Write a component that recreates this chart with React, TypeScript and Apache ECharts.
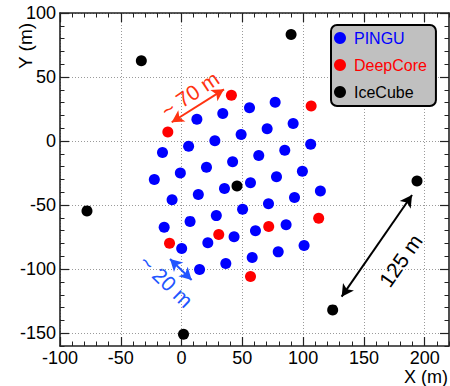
import React, { useEffect, useRef } from 'react';
import * as echarts from 'echarts';

const FONT = "'Liberation Sans', Arial, Helvetica, sans-serif";

// Detector string positions (m)
const pinguPoints: [number, number][] = [
  [12.6, 17], [33.9, 21.6], [55.9, 26], [77, 30.4],
  [-15.7, -9], [5.8, -4], [27.4, 0.3], [49, 5.2], [70.4, 9.6], [91.8, 13.8],
  [-22.4, -30], [-1, -25], [20.5, -20.5], [42, -16.2], [63.5, -11.2], [84.9, -7.1], [106.2, -2.4],
  [-7.8, -45.8], [13.8, -41.7], [35.3, -37], [56.7, -32.6], [78.1, -27.9], [99.4, -23.5],
  [-14.3, -67.3], [7, -62.7], [28.6, -58.2], [50.2, -53.3], [71.5, -49], [92.9, -44], [114.2, -39],
  [0.1, -83.9], [21.6, -79.3], [43.2, -74.7], [60.8, -70.1], [86, -65.4],
  [14.8, -100.3], [36.4, -95.5], [58.1, -90.9], [79.5, -86.5], [100.8, -81.5],
];
const deepCorePoints: [number, number][] = [
  [-11.3, 7.1], [41, 35.8], [106.6, 27.3], [112.8, -60.2],
  [71.7, -66.7], [30.6, -72.9], [-9.9, -79.8], [56.7, -105.8],
];
const iceCubePoints: [number, number][] = [
  [-33.1, 62.7], [90.1, 83.3], [-77.8, -54.5], [45.6, -35.1],
  [193.7, -31.1], [124.3, -131.8], [1.6, -150.8],
];

const xMajorTicks = [-100, -50, 0, 50, 100, 150, 200];
const yMajorTicks = [-150, -100, -50, 0, 50, 100];
const xRange = [-100, 220];
const yRange = [-160, 100];

const arrowFrom: [number, number][] = [[-8.1, 14.7], [-9.5, -92], [131.7, -121.5]];
const arrowTo: [number, number][] = [[34.9, 40.4], [8.3, -108.4], [189.6, -42.1]];
const noteText = ['~ 70 m', '~ 20 m', '125 m'];
const notePos: [number, number][] = [[6.9, 36.5], [-12.6, -109.4], [180.2, -93.2]];
const noteAngle = [34, -44, 55];
const noteColor = ['#ff3311', '#2255ff', '#000000'];

const AXIS_COLOR = '#222';

function makeAxes(dim: 'x' | 'y') {
  const isX = dim === 'x';
  const range = isX ? xRange : yRange;
  const majors = isX ? xMajorTicks : yMajorTicks;
  const positions = isX ? ['bottom', 'top'] : ['left', 'right'];
  const axes: any[] = [];
  positions.forEach((pos, i) => {
    axes.push({
      type: 'value',
      position: pos,
      min: range[0],
      max: range[1],
      interval: 10,
      axisLine: { show: true, onZero: false, lineStyle: { color: AXIS_COLOR, width: 1.6 } },
      axisTick: {
        show: true,
        inside: true,
        length: 9,
        customValues: majors,
        lineStyle: { color: AXIS_COLOR, width: 1.2 },
      },
      axisLabel: {
        show: i === 0,
        customValues: majors,
        margin: isX ? 3 : 4,
        fontSize: 18,
        color: '#000',
        fontFamily: FONT,
      },
      splitLine: {
        show: i === 0,
        lineStyle: { type: [1, 2], color: '#9a9a9a', width: 1 },
      },
    });
    axes.push({
      type: 'value',
      position: pos,
      min: range[0],
      max: range[1],
      interval: 10,
      axisLine: { show: false, onZero: false },
      axisTick: { show: true, inside: true, length: 4.5, lineStyle: { color: AXIS_COLOR, width: 1 } },
      axisLabel: { show: false },
      splitLine: { show: false },
    });
  });
  return axes;
}

const titleGraphics = [
  {
    id: 'ytitle',
    type: 'text',
    x: 25,
    y: 46,
    rotation: Math.PI / 2,
    style: {
      text: 'Y (m)',
      fontSize: 19,
      fontFamily: FONT,
      fill: '#000',
      align: 'center',
      verticalAlign: 'middle',
    },
  },
  {
    id: 'xtitle',
    type: 'text',
    x: 448,
    y: 377,
    style: {
      text: 'X (m)',
      fontSize: 18,
      fontFamily: FONT,
      fill: '#000',
      align: 'right',
      verticalAlign: 'middle',
    },
  },
];

export default function App() {
  const ref = useRef<HTMLDivElement>(null);

  useEffect(() => {
    if (!ref.current) return;
    const chart = echarts.init(ref.current, null, { renderer: 'svg' });

    const option: any = {
      animation: false,
      backgroundColor: '#ffffff',
      grid: { left: 60, right: 1, top: 13, bottom: 40, containLabel: false, outerBoundsMode: 'none' },
      xAxis: makeAxes('x'),
      yAxis: makeAxes('y'),
      legend: {
        data: [
          { name: 'PINGU', textStyle: { color: '#0000ff' } },
          { name: 'DeepCore', textStyle: { color: '#ff0000' } },
          { name: 'IceCube', textStyle: { color: '#000000' } },
        ],
        orient: 'vertical',
        left: 331,
        top: 25,
        icon: 'circle',
        itemWidth: 18,
        itemHeight: 12,
        itemGap: 11,
        backgroundColor: '#c0c0c0',
        borderColor: '#000',
        borderWidth: 2,
        borderRadius: 6,
        padding: [5, 9, 6, 3],
        selectedMode: false,
        textStyle: { fontSize: 16, fontFamily: FONT },
      },
      series: [
        {
          name: 'annotations',
          type: 'scatter',
          xAxisIndex: 0,
          yAxisIndex: 0,
          silent: true,
          symbolSize: 1,
          itemStyle: { color: 'rgba(0,0,0,0)', opacity: 1 },
          label: { show: false },
          data: notePos,
          markLine: {
            silent: true,
            animation: false,
            symbol: ['arrow', 'arrow'],
            symbolSize: [10, 12],
            label: { show: false },
            emphasis: { disabled: true },
            data: arrowFrom.map((f, i) => [
              { coord: f, lineStyle: { color: noteColor[i], width: 2, type: 'solid' } },
              { coord: arrowTo[i] },
            ]),
          },
        },
        {
          name: 'PINGU',
          type: 'scatter',
          symbolSize: 11,
          itemStyle: { color: '#0000ff', opacity: 1 },
          data: pinguPoints,
        },
        {
          name: 'DeepCore',
          type: 'scatter',
          symbolSize: 11,
          itemStyle: { color: '#ff0000', opacity: 1 },
          data: deepCorePoints,
        },
        {
          name: 'IceCube',
          type: 'scatter',
          symbolSize: 11,
          itemStyle: { color: '#000000', opacity: 1 },
          data: iceCubePoints,
        },
      ],
      graphic: titleGraphics,
    };

    chart.setOption(option);

    const notes = notePos.map((p, i) => {
      const px = chart.convertToPixel({ xAxisIndex: 0, yAxisIndex: 0 } as any, p) as any;
      return {
        id: 'note' + i,
        type: 'text',
        x: px[0],
        y: px[1],
        rotation: (noteAngle[i] * Math.PI) / 180,
        silent: true,
        style: {
          text: noteText[i],
          fontSize: 21,
          fontFamily: FONT,
          fill: noteColor[i],
          align: 'center',
          verticalAlign: 'middle',
        },
      };
    });
    chart.setOption({ graphic: [...titleGraphics, ...notes] });

    return () => chart.dispose();
  }, []);

  return <div ref={ref} style={{ width: 450, height: 386, position: 'absolute', left: 0, top: 0 }} />;
}
